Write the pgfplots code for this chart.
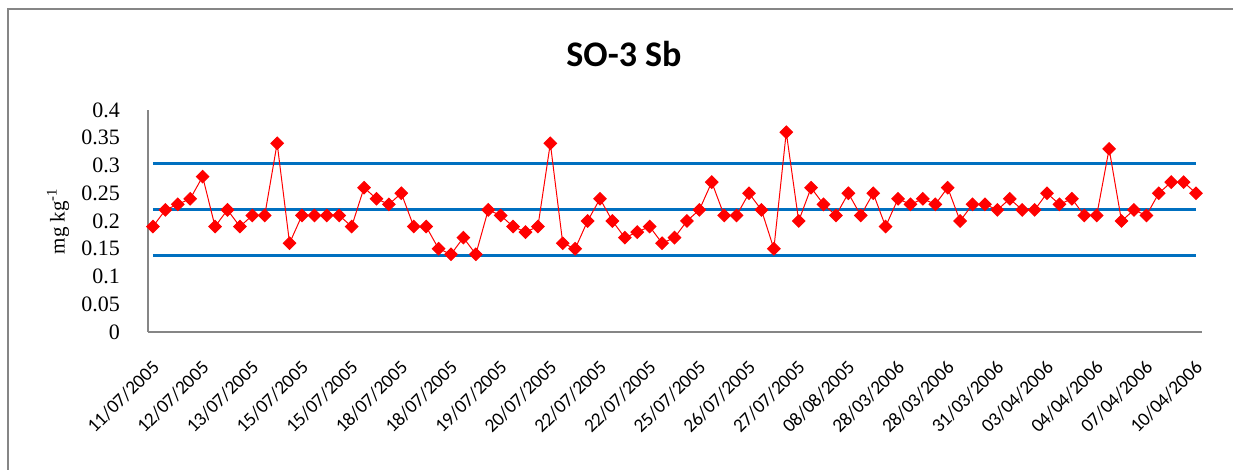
\documentclass[border=0pt]{standalone}
\usepackage{pgfplots}
\pgfplotsset{compat=1.18}
\usepackage{fontspec}
\setmainfont{Carlito}
\newfontfamily\tnr{Liberation Serif}
\definecolor{frameg}{RGB}{134,134,134}
\definecolor{xlblue}{RGB}{0,112,192}
\definecolor{xlred}{RGB}{255,0,0}
\begin{document}
\begin{tikzpicture}
\path[use as bounding box] (0,0) rectangle (616.5pt,235pt);
\draw[line width=1pt, frameg] (4pt,0) -- (4pt,230.5pt) -- (616.5pt,230.5pt);
\node[font=\fontsize{18}{20}\selectfont\bfseries, anchor=base] at (312pt,201.5pt) {SO-3 Sb};
\begin{axis}[
  at={(74pt,69pt)}, anchor=south west,
  scale only axis, width=527pt, height=111pt,
  xmin=0.6, xmax=85.48, ymin=0, ymax=0.4,
  axis x line*=bottom, axis y line*=left,
  axis line style={frameg, line width=0.6pt},
  major tick length=0pt,
  xtick={1,5,...,85},
  xticklabels={11/07/2005,12/07/2005,13/07/2005,15/07/2005,15/07/2005,18/07/2005,18/07/2005,19/07/2005,20/07/2005,22/07/2005,22/07/2005,25/07/2005,26/07/2005,27/07/2005,08/08/2005,28/03/2006,28/03/2006,31/03/2006,03/04/2006,04/04/2006,07/04/2006,10/04/2006},
  xticklabel style={font=\fontsize{9.6}{11}\selectfont, xshift=4pt, yshift=-13.5pt, rotate=45, anchor=east},
  ytick={0,0.05,0.1,0.15,0.2,0.25,0.3,0.35,0.4},
  yticklabels={0,0.05,0.1,0.15,0.2,0.25,0.3,0.35,0.4},
  yticklabel style={font=\tnr\fontsize{11}{12}\selectfont, xshift=-10.5pt},
  ylabel={\tnr\fontsize{10.5}{12}\selectfont mg kg\textsuperscript{-1}},
  ylabel style={at={(axis description cs:-0.0854,0.5)}, anchor=center},
  clip=false,
]
\addplot[xlblue, line width=1.5pt, no marks] coordinates {(1,0.3035) (85,0.3035)};
\addplot[xlblue, line width=1.5pt, no marks] coordinates {(1,0.2205) (85,0.2205)};
\addplot[xlblue, line width=1.5pt, no marks] coordinates {(1,0.1375) (85,0.1375)};
\addplot[xlred, line width=0.5pt, mark=square*, mark size=2.2pt, mark options={rotate=45, solid, fill=xlred, draw=xlred}] coordinates {
(1,0.19) (2,0.22) (3,0.23) (4,0.24) (5,0.28) (6,0.19) (7,0.22) (8,0.19) (9,0.21) (10,0.21)
(11,0.34) (12,0.16) (13,0.21) (14,0.21) (15,0.21) (16,0.21) (17,0.19) (18,0.26) (19,0.24) (20,0.23)
(21,0.25) (22,0.19) (23,0.19) (24,0.15) (25,0.14) (26,0.17) (27,0.14) (28,0.22) (29,0.21) (30,0.19)
(31,0.18) (32,0.19) (33,0.34) (34,0.16) (35,0.15) (36,0.20) (37,0.24) (38,0.20) (39,0.17) (40,0.18)
(41,0.19) (42,0.16) (43,0.17) (44,0.20) (45,0.22) (46,0.27) (47,0.21) (48,0.21) (49,0.25) (50,0.22)
(51,0.15) (52,0.36) (53,0.20) (54,0.26) (55,0.23) (56,0.21) (57,0.25) (58,0.21) (59,0.25) (60,0.19)
(61,0.24) (62,0.23) (63,0.24) (64,0.23) (65,0.26) (66,0.20) (67,0.23) (68,0.23) (69,0.22) (70,0.24)
(71,0.22) (72,0.22) (73,0.25) (74,0.23) (75,0.24) (76,0.21) (77,0.21) (78,0.33) (79,0.20) (80,0.22)
(81,0.21) (82,0.25) (83,0.27) (84,0.27) (85,0.25)
};
\end{axis}
\end{tikzpicture}
\end{document}
